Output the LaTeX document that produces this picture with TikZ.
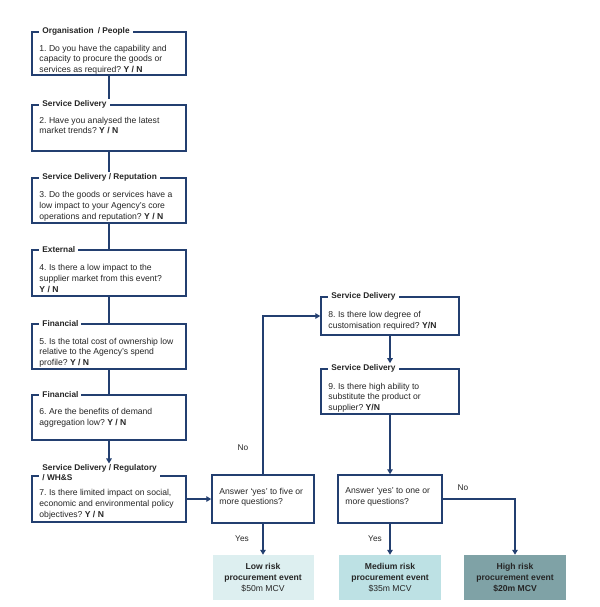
\documentclass[tikz,border=0pt]{standalone}
\usepackage{fontspec}
\setmainfont{Liberation Sans}
\usetikzlibrary{calc,arrows.meta}
\definecolor{navy}{HTML}{233F70}
\definecolor{lowfill}{HTML}{DDEFF0}
\definecolor{medfill}{HTML}{BDE1E4}
\definecolor{highfill}{HTML}{7FA2A6}
\frenchspacing
\pgfdeclarelayer{bglayer}
\pgfdeclarelayer{connlayer}
\pgfsetlayers{bglayer,connlayer,main}
\begin{document}
\begin{tikzpicture}[x=1pt,y=-1pt,
  qbox/.style={draw=navy,line width=1.5pt,fill=white,inner sep=0pt},
  qtext/.style={anchor=north west,inner sep=0pt,align=left,font=\fontsize{8.6}{10.8}\selectfont\frenchspacing,text=black!85},
  qtitle/.style={anchor=west,fill=white,inner xsep=3pt,inner ysep=1pt,align=left,font=\fontsize{8.3}{10}\selectfont\bfseries,text=black!85},
  rbox/.style={inner sep=0pt,align=center,font=\fontsize{8.6}{10.8}\selectfont,text=black!85},
  link/.style={draw=navy,line width=1.5pt},
  arr/.style={link,-{Triangle[length=5pt,width=5.5pt]}},
  lbl/.style={font=\fontsize{8.3}{10}\selectfont,text=black!85,inner sep=0pt}
]
\useasboundingbox (0,0) rectangle (599,607);
\begin{pgfonlayer}{bglayer}
\fill[white] (0,0) rectangle (599,607);
\end{pgfonlayer}

% left column boxes
\node[qbox,minimum width=154,minimum height=43] (b1) at (109,53.5) {};
\node[qbox,minimum width=154,minimum height=46] (b2) at (109,128) {};
\node[qbox,minimum width=154,minimum height=45] (b3) at (109,200.5) {};
\node[qbox,minimum width=154,minimum height=46] (b4) at (109,273) {};
\node[qbox,minimum width=154,minimum height=45] (b5) at (109,346.5) {};
\node[qbox,minimum width=154,minimum height=45] (b6) at (109,417.5) {};
\node[qbox,minimum width=154,minimum height=46] (b7) at (109,499) {};

% right column boxes
\node[qbox,minimum width=138,minimum height=38] (b8) at (390,316) {};
\node[qbox,minimum width=138,minimum height=45] (b9) at (390,391.5) {};

% decision boxes
\node[qbox,minimum width=102,minimum height=48] (d1) at (263,499) {};
\node[qbox,minimum width=104,minimum height=48] (d2) at (390,499) {};

% result boxes
\node[rbox,fill=lowfill,minimum width=101,minimum height=45] (r1) at (263,577.5)
  {\textbf{Low risk}\\\textbf{procurement event}\\\$50m MCV};
\node[rbox,fill=medfill,minimum width=102,minimum height=45] (r2) at (390,577.5)
  {\textbf{Medium risk}\\\textbf{procurement event}\\\$35m MCV};
\node[rbox,fill=highfill,minimum width=102,minimum height=45] (r3) at (515,577.5)
  {\textbf{High risk}\\\textbf{procurement event}\\\textbf{\$20m MCV}};

% titles
\node[qtitle] (h1) at ($(b1.north west)+(8,0)$) {Organisation\enspace/ People};
\node[qtitle] (h2) at ($(b2.north west)+(8,0)$) {Service Delivery};
\node[qtitle] (h3) at ($(b3.north west)+(8,0)$) {Service Delivery / Reputation};
\node[qtitle] (h4) at ($(b4.north west)+(8,0)$) {External};
\node[qtitle] (h5) at ($(b5.north west)+(8,0)$) {Financial};
\node[qtitle] (h6) at ($(b6.north west)+(8,0)$) {Financial};
\node[qtitle,inner ysep=0.5pt] (h7) at ($(b7.north west)+(8,-3)$) {Service Delivery / Regulatory\\/ WH\&S};
\node[qtitle] (h8) at ($(b8.north west)+(8,0)$) {Service Delivery};
\node[qtitle] (h9) at ($(b9.north west)+(8,0)$) {Service Delivery};

% texts
\node[qtext] (t1) at ($(b1.north west)+(8,13.5)$) {1. Do you have the capability and\\capacity to procure the goods or\\services as required? \textbf{Y / N}};
\node[qtext] (t2) at ($(b2.north west)+(8,12.5)$) {2. Have you analysed the latest\\market trends? \textbf{Y / N}};
\node[qtext] (t3) at ($(b3.north west)+(8,14)$) {3. Do the goods or services have a\\low impact to your Agency's core\\operations and reputation? \textbf{Y / N}};
\node[qtext] (t4) at ($(b4.north west)+(8,15)$) {4. Is there a low impact to the\\supplier market from this event?\\\textbf{Y / N}};
\node[qtext] (t5) at ($(b5.north west)+(8,14.5)$) {5. Is the total cost of ownership low\\relative to the Agency's spend\\profile? \textbf{Y / N}};
\node[qtext] (t6) at ($(b6.north west)+(8,14)$) {6. Are the benefits of demand\\aggregation low? \textbf{Y / N}};
\node[qtext] (t7) at ($(b7.north west)+(8,14)$) {7. Is there limited impact on social,\\economic and environmental policy\\objectives? \textbf{Y / N}};
\node[qtext] (t8) at ($(b8.north west)+(8,15)$) {8. Is there low degree of\\customisation required? \textbf{Y/N}};
\node[qtext] (t9) at ($(b9.north west)+(8,14.5)$) {9. Is there high ability to\\substitute the product or\\supplier? \textbf{Y/N}};
\node[qtext] (t10) at ($(d1.north west)+(8,13.5)$) {Answer `yes' to five or\\more questions?};
\node[qtext] (t11) at ($(d2.north west)+(8,13.5)$) {Answer `yes' to one or\\more questions?};

% connectors
\coordinate (a7) at (b6.south |- h7.north);
\coordinate (a9) at (b8.south |- h9.north);
\coordinate (c1) at (d1.north |- b8.west);
\coordinate (c2) at (r3.north |- d2.east);
\begin{pgfonlayer}{connlayer}
\draw[link] (b1.south) -- (b2.north);
\draw[link] (b2.south) -- (b3.north);
\draw[link] (b3.south) -- (b4.north);
\draw[link] (b4.south) -- (b5.north);
\draw[link] (b5.south) -- (b6.north);
\end{pgfonlayer}
\draw[arr] (b6.south) -- (a7);
\draw[arr] (b7.east) -- (d1.west);
\draw[arr] (d1.north) -- (c1) -- (b8.west);
\draw[arr] (b8.south) -- (a9);
\draw[arr] (b9.south) -- (d2.north);
\draw[arr] (d1.south) -- (r1.north);
\draw[arr] (d2.south) -- (r2.north);
\draw[arr] (d2.east) -- (c2) -- (r3.north);

% labels
\node[lbl] (n1) at (243,448) {No};
\node[lbl] (y1) at (242,539) {Yes};
\node[lbl] (y2) at (375,539) {Yes};
\node[lbl] (n2) at (463,488) {No};
\end{tikzpicture}
\end{document}
